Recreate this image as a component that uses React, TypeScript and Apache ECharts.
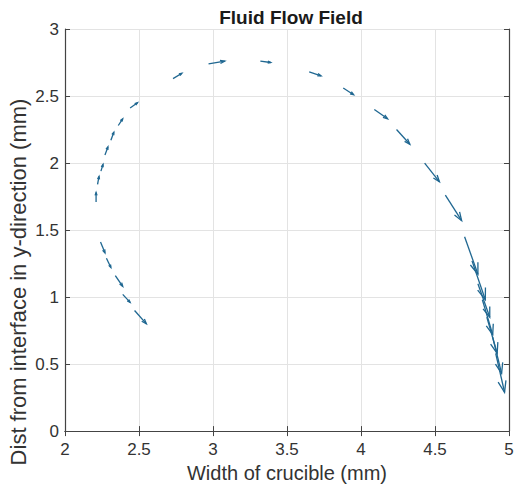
import React, { useEffect, useRef } from "react";
import * as echarts from "echarts";

// Arrow tails (x, y) and components (u, v), in data units (mm)
const arrowX = [
  2.21, 2.22, 2.243, 2.27, 2.31, 2.36, 2.44, 2.73, 2.97, 3.32, 3.65, 3.88, 4.09, 4.24, 4.43, 4.57,
  4.70, 4.75, 4.79, 4.82, 4.85, 4.89, 4.91,
  2.24, 2.28, 2.34, 2.39, 2.47,
];
const arrowY = [
  1.71, 1.84, 1.94, 2.06, 2.17, 2.28, 2.41, 2.63, 2.74, 2.76, 2.68, 2.56, 2.40, 2.25, 2.00, 1.76,
  1.45, 1.27, 1.10, 0.98, 0.85, 0.70, 0.58,
  1.41, 1.29, 1.16, 1.02, 0.90,
];
const arrowU = [
  0.0, 0.01, 0.014, 0.02, 0.02, 0.03, 0.05, 0.06, 0.11, 0.07, 0.08, 0.07, 0.09, 0.09, 0.10, 0.11,
  0.09, 0.09, 0.08, 0.07, 0.07, 0.06, 0.06,
  0.03, 0.03, 0.05, 0.05, 0.08,
];
const arrowV = [
  0.07, 0.06, 0.05, 0.06, 0.06, 0.05, 0.04, 0.04, 0.02, -0.01, -0.03, -0.05, -0.07, -0.11, -0.14, -0.19,
  -0.28, -0.29, -0.25, -0.26, -0.27, -0.27, -0.29,
  -0.08, -0.07, -0.08, -0.06, -0.10,
];

const xTicks = { min: 2, max: 5, interval: 0.5 };
const yTicks = { min: 0, max: 3, interval: 0.5 };

const titleText = "Fluid Flow Field";
const xLabel = "Width of crucible (mm)";
const yLabel = "Dist from interface in y-direction (mm)";

const FONT = "'Liberation Sans', Arial, sans-serif";
const ARROW_COLOR = "#1f6791";
const BOX_COLOR = "#444444";

export default function App() {
  const ref = useRef<HTMLDivElement>(null);

  useEffect(() => {
    if (!ref.current) return;
    const chart = echarts.init(ref.current, undefined, { renderer: "svg" });
    const data = arrowX.map((x, i) => [x, arrowY[i], arrowU[i], arrowV[i]]);

    const axisCommon = {
      axisLine: { show: true, lineStyle: { color: BOX_COLOR, width: 1.2 } },
      axisTick: { show: true, inside: true, length: 5, lineStyle: { color: BOX_COLOR } },
    };

    chart.setOption({
      animation: false,
      backgroundColor: "#ffffff",
      title: {
        text: titleText,
        left: 286,
        top: 3,
        textAlign: "center",
        textStyle: { fontFamily: FONT, fontSize: 19, fontWeight: "bold", color: "#1a1a1a" },
      },
      grid: { left: 65, right: 8, top: 29, bottom: 56 },
      xAxis: [
        {
          type: "value",
          ...xTicks,
          position: "bottom",
          ...axisCommon,
          axisLabel: { fontFamily: FONT, fontSize: 17, color: "#333", margin: 10 },
          splitLine: { show: true, lineStyle: { color: "#e3e3e3", width: 1 } },
          name: xLabel,
          nameLocation: "middle",
          nameGap: 31,
          nameTextStyle: { fontFamily: FONT, fontSize: 20, color: "#333" },
        },
        {
          type: "value",
          ...xTicks,
          position: "top",
          ...axisCommon,
          axisLabel: { show: false },
          splitLine: { show: false },
        },
      ],
      yAxis: [
        {
          type: "value",
          ...yTicks,
          position: "left",
          ...axisCommon,
          axisLabel: { fontFamily: FONT, fontSize: 17, color: "#333", margin: 6 },
          splitLine: { show: true, lineStyle: { color: "#e3e3e3", width: 1 } },
        },
        {
          type: "value",
          ...yTicks,
          position: "right",
          ...axisCommon,
          axisLabel: { show: false },
          splitLine: { show: false },
        },
      ],
      graphic: [
        {
          type: "text",
          x: 18,
          y: 282,
          rotation: Math.PI / 2,
          style: {
            text: yLabel,
            fontFamily: FONT,
            fontSize: 22,
            fill: "#333",
            align: "center",
            verticalAlign: "middle",
          },
        },
      ],
      series: [
        {
          type: "custom",
          xAxisIndex: 0,
          yAxisIndex: 0,
          clip: true,
          data,
          renderItem: (params: any, api: any) => {
            const x = api.value(0);
            const y = api.value(1);
            const u = api.value(2);
            const v = api.value(3);
            const p0 = api.coord([x, y]);
            const p1 = api.coord([x + u, y + v]);
            const dx = p1[0] - p0[0];
            const dy = p1[1] - p0[1];
            const len = Math.sqrt(dx * dx + dy * dy) || 1;
            const ang = Math.atan2(dy, dx);
            const hl = Math.max(3, len * 0.3);
            const ha = 0.34;
            const h1 = [p1[0] - hl * Math.cos(ang - ha), p1[1] - hl * Math.sin(ang - ha)];
            const h2 = [p1[0] - hl * Math.cos(ang + ha), p1[1] - hl * Math.sin(ang + ha)];
            const style = { stroke: ARROW_COLOR, lineWidth: 1.3, fill: "none" };
            return {
              type: "group",
              children: [
                { type: "line", shape: { x1: p0[0], y1: p0[1], x2: p1[0], y2: p1[1] }, style },
                { type: "polyline", shape: { points: [h1, p1, h2] }, style },
              ],
            };
          },
        },
      ],
    });

    return () => chart.dispose();
  }, []);

  return <div ref={ref} style={{ width: 517, height: 488, position: "absolute", left: 0, top: 0 }} />;
}
